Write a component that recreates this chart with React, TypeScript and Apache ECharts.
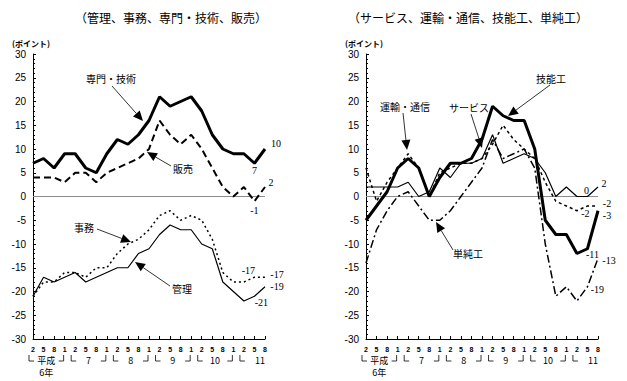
import React, { useEffect, useRef } from 'react';
import * as echarts from 'echarts';

// 平成6年2月 〜 平成11年8月 (quarterly)
const categories = ['2','5','8','1','2','5','8','1','2','5','8','1','2','5','8','1','2','5','8','1','2','5','8'];
const yTicks = { min: -30, max: 30, step: 5 };

// left panel
const senmon = [7, 8, 6, 9, 9, 6, 5, 9, 12, 11, 13, 16, 21, 19, 20, 21, 18, 13, 10, 9, 9, 7, 10];
const hanbai = [4, 4, 4, 3, 5, 5, 3, 5, 6, 7, 8, 10, 16, 13, 11, 13, 10, 6, 2, 0, 2, -1, 2];
const jimu = [-21, -18, -18, -16, -16, -17, -15, -15, -12, -10, -9, -7, -4, -3, -5, -4, -5, -9, -16, -18, -18, -17, -17];
const kanri = [-21, -17, -18, -17, -16, -18, -17, -16, -15, -15, -12, -11, -8, -6, -7, -7, -10, -11, -18, -20, -22, -21, -19];

// right panel
const service = [2, 2, 2, 2, 3, 0, 1, 6, 4, 7, 7, 8, 13, 7, 8, 9, 8, 5, 0, 2, 0, 0, 2];
const unyu = [6, -1, 3, 6, 9, 6, 0, 5, 6, 7, 7, 8, 11, 15, 12, 10, 8, 3, -1, -2, -3, -2, -2];
const ginou = [-5, -2, 1, 6, 8, 6, 0, 4, 7, 7, 8, 12, 19, 17, 16, 16, 10, -5, -8, -8, -12, -11, -3];
const tanjun = [-14, -7, -3, 0, 1, -2, -5, -5, -3, 0, 3, 6, 12, 8, 9, 10, 6, -10, -21, -19, -22, -19, -13];

const yearGroups = [
  { label: '平成', sub: '6年', from: 0, to: 3, open: false },
  { label: '7', sub: '', from: 4, to: 7, open: false },
  { label: '8', sub: '', from: 8, to: 11, open: false },
  { label: '9', sub: '', from: 12, to: 15, open: false },
  { label: '10', sub: '', from: 16, to: 19, open: false },
  { label: '11', sub: '', from: 20, to: 22, open: true },
];

const CJK = "'Noto Sans CJK JP', sans-serif";
const NUM = "'Liberation Sans', Arial, sans-serif";
const SERIF = "'Liberation Serif', 'Times New Roman', serif";

type Lbl = { idx: number; offset: [number, number] };

function mkSeries(name: string, values: number[], gi: number, lineStyle: any, labels: Lbl[], z = 2, zero = false) {
  const s: any = {
    type: 'line',
    name,
    xAxisIndex: gi,
    yAxisIndex: gi,
    symbol: 'circle',
    symbolSize: 0,
    showSymbol: true,
    silent: true,
    z,
    lineStyle: { color: '#000', ...lineStyle },
    itemStyle: { color: '#000' },
    label: { show: false },
    emphasis: { disabled: true },
    data: values.map((v, i) => {
      const l = labels.find((x) => x.idx === i);
      if (!l) return v;
      return {
        value: v,
        label: {
          show: true,
          position: 'inside',
          offset: l.offset,
          color: '#000',
          fontSize: 10,
          fontFamily: SERIF,
          formatter: (p: any) => String(p.value),
        },
      };
    }),
  };
  if (zero) {
    s.markLine = {
      silent: true,
      symbol: 'none',
      label: { show: false },
      lineStyle: { color: '#8c8c8c', width: 1, type: 'solid' },
      data: [{ yAxis: 0 }],
      z: 1,
    };
  }
  return s;
}

function arrow(x1: number, y1: number, x2: number, y2: number, head = 10, hw = 4.5) {
  const dx = x2 - x1, dy = y2 - y1;
  const len = Math.hypot(dx, dy);
  const ux = dx / len, uy = dy / len;
  const bx = x2 - ux * head, by = y2 - uy * head;
  const px = -uy * hw, py = ux * hw;
  return [
    { type: 'line', shape: { x1, y1, x2: bx, y2: by }, style: { stroke: '#000', lineWidth: 0.8 }, silent: true },
    { type: 'polygon', shape: { points: [[x2, y2], [bx + px, by + py], [bx - px, by - py]] }, style: { fill: '#000' }, silent: true },
  ];
}

function txt(text: string, x: number, y: number, size = 10, extra: any = {}) {
  return {
    type: 'text',
    x,
    y,
    silent: true,
    style: { text, fontSize: size, fontFamily: CJK, fill: '#000', align: 'center', verticalAlign: 'middle', ...extra },
  };
}

export default function App() {
  const ref = useRef<HTMLDivElement>(null);
  useEffect(() => {
    const chart = echarts.init(ref.current!, null, { renderer: 'svg' });
    const grids = [
      { left: 33, top: 54, width: 232, height: 285 },
      { left: 366, top: 54, width: 232, height: 285 },
    ];
    const xAxis = grids.map((_, i) => ({
      type: 'category',
      gridIndex: i,
      data: categories,
      boundaryGap: false,
      axisLine: { onZero: false, lineStyle: { color: '#000', width: 1 } },
      axisTick: { show: true, inside: true, length: 3, lineStyle: { color: '#000' } },
      axisLabel: { interval: 0, fontSize: 7, fontWeight: 'bold', color: '#000', fontFamily: NUM, margin: 7 },
      splitLine: { show: false },
    }));
    const yAxis = grids.map((_, i) => ({
      type: 'value',
      gridIndex: i,
      min: yTicks.min,
      max: yTicks.max,
      interval: yTicks.step,
      axisLine: { show: true, lineStyle: { color: '#000', width: 1 } },
      axisTick: { show: true, inside: true, length: 3, lineStyle: { color: '#000' } },
      minorTick: { show: true, splitNumber: 5, length: 2, lineStyle: { color: '#000' } },
      axisLabel: { fontSize: 10, color: '#000', fontFamily: NUM, margin: 7 },
      splitLine: { show: false },
    }));

    const series = [
      mkSeries('管理', kanri, 0, { width: 1.2, type: 'solid' }, [
        { idx: 21, offset: [7, 6] },
        { idx: 22, offset: [12, 0] },
      ], 3, true),
      mkSeries('事務', jimu, 0, { width: 1.5, type: [2, 3] }, [
        { idx: 21, offset: [-6, -7] },
        { idx: 22, offset: [12, -3] },
      ]),
      mkSeries('専門・技術', senmon, 0, { width: 3, type: 'solid' }, [
        { idx: 21, offset: [0, 7] },
        { idx: 22, offset: [11, -6] },
      ], 4),
      mkSeries('販売', hanbai, 0, { width: 2, type: [7, 4] }, [
        { idx: 21, offset: [0, 9] },
        { idx: 22, offset: [6, -5] },
      ]),
      mkSeries('サービス', service, 1, { width: 1.2, type: 'solid' }, [
        { idx: 21, offset: [-1, -6] },
        { idx: 22, offset: [6, -4] },
      ], 3, true),
      mkSeries('運輸・通信', unyu, 1, { width: 1.5, type: [3, 3] }, [
        { idx: 21, offset: [-2, 7] },
        { idx: 22, offset: [9, -3] },
      ]),
      mkSeries('技能工', ginou, 1, { width: 3, type: 'solid' }, [
        { idx: 21, offset: [5, 6] },
        { idx: 22, offset: [9, 5] },
      ], 4),
      mkSeries('単純工', tanjun, 1, { width: 1.5, type: [8, 3, 2, 3] }, [
        { idx: 21, offset: [10, 3] },
        { idx: 22, offset: [11, 2] },
      ]),
    ];

    chart.setOption({
      animation: false,
      backgroundColor: '#fff',
      grid: grids,
      xAxis,
      yAxis,
      series,
    });

    const graphics: any[] = [];
    // titles
    graphics.push(txt('（管理、事務、専門・技術、販売）', 171, 17, 12));
    graphics.push(txt('（サービス、運輸・通信、技能工、単純工）', 468, 17, 12));
    graphics.push(txt('(ポイント)', 12, 43, 8, { align: 'left', fontWeight: 'bold' }));
    graphics.push(txt('(ポイント)', 345, 43, 8, { align: 'left', fontWeight: 'bold' }));

    // annotations
    graphics.push(txt('専門・技術', 111, 78));
    graphics.push(...arrow(112, 86, 143, 121));
    graphics.push(txt('販売', 183, 168));
    graphics.push(...arrow(171, 166, 147, 152));
    graphics.push(txt('事務', 84, 227));
    graphics.push(...arrow(97, 229, 131, 242));
    graphics.push(txt('管理', 182, 288));
    graphics.push(...arrow(170, 286, 135, 262));

    graphics.push(txt('運輸・通信', 405, 106));
    graphics.push(...arrow(403, 113, 407, 150));
    graphics.push(txt('サービス', 469, 107));
    graphics.push(...arrow(471, 114, 482, 148));
    graphics.push(txt('技能工', 551, 78));
    graphics.push(...arrow(550, 85, 508, 116));
    graphics.push(txt('単純工', 468, 253));
    graphics.push(...arrow(453, 250, 436, 222));

    // year brackets under each x axis
    for (let g = 0; g < 2; g++) {
      for (const yg of yearGroups) {
        const pa = chart.convertToPixel({ gridIndex: g } as any, [yg.from, yTicks.min]) as number[];
        const pb = chart.convertToPixel({ gridIndex: g } as any, [yg.to, yTicks.min]) as number[];
        const xa = pa[0] - 4;
        const xb = pb[0] - 1;
        const y0 = pa[1] + 16;
        const y1 = y0 + 6;
        graphics.push({ type: 'polyline', silent: true, shape: { points: [[xa, y0], [xa, y1], [xa + 5, y1]] }, style: { stroke: '#000', lineWidth: 0.8, fill: null } });
        if (!yg.open) {
          graphics.push({ type: 'polyline', silent: true, shape: { points: [[xb - 5, y1], [xb, y1], [xb, y0]] }, style: { stroke: '#000', lineWidth: 0.8, fill: null } });
        }
        const cx = yg.open ? xa + 20 : (xa + xb) / 2;
        graphics.push(txt(yg.label, cx, y1 - 1, 9));
        if (yg.sub) graphics.push(txt(yg.sub, cx, y1 + 11, 9));
      }
    }

    chart.setOption({ graphic: graphics });
    return () => chart.dispose();
  }, []);
  return (
    <div
      ref={ref}
      style={{ position: 'fixed', left: 0, top: 0, width: 627, height: 381, background: '#fff' }}
    />
  );
}
